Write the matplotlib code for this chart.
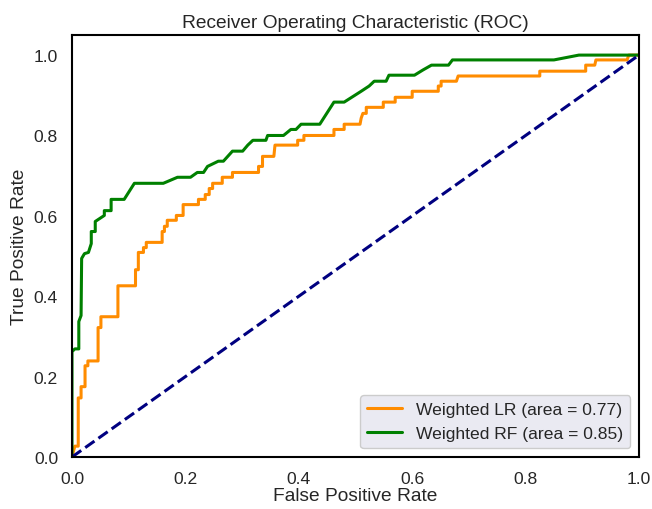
import matplotlib
matplotlib.use("Agg")
import matplotlib.pyplot as plt
import seaborn as sns

# ROC points (false positive rate, true positive rate) for the two weighted models
fpr_lr = [0, .005, .011, .011, .016, .016, .023, .023, .028, .028,
          .046, .046, .051, .051, .081, .081, .112, .112, .117, .117,
          .126, .126, .131, .131, .159, .159, .163, .163, .168, .168,
          .184, .184, .196, .196, .223, .223, .235, .235, .242, .242,
          .248, .248, .265, .265, .283, .283, .329, .329, .336, .336,
          .356, .358, .398, .398, .409, .409, .462, .462, .480, .480,
          .508, .510, .513, .519, .519, .549, .549, .570, .570, .600,
          .600, .646, .646, .651, .651, .678, .681, .825, .825, .906,
          .906, .922, .924, .979, .982, 1.0]
tpr_lr = [0, .027, .027, .147, .147, .175, .175, .227, .227, .239,
          .239, .322, .322, .349, .349, .426, .426, .466, .466, .509,
          .509, .521, .521, .534, .534, .561, .561, .574, .574, .589,
          .589, .601, .601, .628, .628, .641, .641, .653, .653, .668,
          .668, .681, .681, .696, .696, .708, .708, .723, .723, .748,
          .748, .776, .776, .788, .788, .800, .800, .815, .815, .828,
          .828, .843, .855, .855, .870, .870, .883, .883, .895, .895,
          .910, .910, .923, .923, .935, .935, .948, .948, .960, .960,
          .975, .975, .988, .988, 1.0, 1.0]

fpr_rf = [0, 0, .005, .012, .012, .016, .017, .022, .029, .034,
          .034, .041, .041, .057, .057, .069, .069, .092, .110, .161,
          .186, .209, .221, .232, .239, .258, .267, .283, .301, .310,
          .319, .342, .345, .373, .386, .395, .404, .437, .462, .480,
          .510, .524, .533, .554, .559, .604, .619, .634, .664, .671,
          .850, .894, 1.0]
tpr_rf = [0, .262, .269, .269, .337, .352, .494, .506, .509, .531,
          .561, .561, .586, .601, .613, .613, .641, .641, .681, .681,
          .696, .696, .708, .708, .723, .736, .736, .761, .761, .776,
          .788, .788, .800, .800, .815, .815, .828, .828, .883, .883,
          .910, .923, .935, .935, .950, .950, .963, .975, .975, .988,
          .988, 1.0, 1.0]

auc_lr = 0.77
auc_rf = 0.85


def show_roc():
    sns.set_style("white")
    plt.rcParams['font.family'] = ['Liberation Sans', 'DejaVu Sans']

    fig = plt.figure(figsize=(6.52, 5.10), dpi=100)
    ax = fig.add_axes([72 / 652, 1 - 458 / 510, 567 / 652, 422 / 510])

    ax.plot(fpr_lr, tpr_lr, color='darkorange', lw=2.2,
            label='Weighted LR (area = %0.2f)' % auc_lr)
    ax.plot(fpr_rf, tpr_rf, color='green', lw=2.2,
            label='Weighted RF (area = %0.2f)' % auc_rf)
    ax.plot([0, 1], [0, 1], color='navy', lw=2.2, linestyle='--')

    ax.set_xlim([0.0, 1.0])
    ax.set_ylim([0.0, 1.05])
    ax.set_xlabel('False Positive Rate', fontsize=13.8, labelpad=1)
    ax.set_ylabel('True Positive Rate', fontsize=13.8, labelpad=4)
    ax.set_title('Receiver Operating Characteristic (ROC)', fontsize=13.8, pad=6)
    ax.tick_params(labelsize=12.6, length=0, pad=10)
    for sp in ax.spines.values():
        sp.set_color('black')
        sp.set_linewidth(1.5)

    ax.legend(loc='lower right', fontsize=12.6, facecolor='#EAEAF2',
              edgecolor='0.8', framealpha=1.0)
    fig.savefig('out.png', dpi=100)


if __name__ == '__main__':
    show_roc()
